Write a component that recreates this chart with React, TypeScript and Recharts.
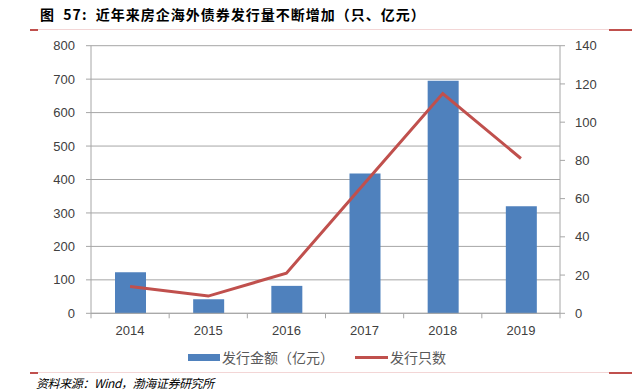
import React from "react";
import { ComposedChart, Bar, Line, XAxis, YAxis, CartesianGrid } from "recharts";

const years = ["2014", "2015", "2016", "2017", "2018", "2019"];
const amountValues = [123, 42, 82, 418, 695, 320];
const countValues = [14, 9, 21, 68, 115, 81];
const leftTicks = [0, 100, 200, 300, 400, 500, 600, 700, 800];
const rightTicks = [0, 20, 40, 60, 80, 100, 120, 140];

const titleText = "图  57:  近年来房企海外债券发行量不断增加（只、亿元）";
const sourceText = "资料来源：Wind，渤海证券研究所";
const legendAmount = "发行金额（亿元）";
const legendCount = "发行只数";

const data = years.map((y, i) => ({ year: y, amount: amountValues[i], count: countValues[i] }));

const AXIS_FONT = "'Liberation Sans', Arial, sans-serif";
const CJK_FONT = "'Noto Sans CJK SC', sans-serif";
const BAND = (560 - 91) / 6;

const XTick = (props: any) => {
  const { x, y, payload, index } = props;
  const axisY = y - 12;
  return (
    <g>
      <line x1={x - BAND / 2} x2={x - BAND / 2} y1={axisY} y2={axisY + 5} stroke="#a6a6a6" />
      {index === years.length - 1 && (
        <line x1={x + BAND / 2} x2={x + BAND / 2} y1={axisY} y2={axisY + 5} stroke="#a6a6a6" />
      )}
      <text x={x} y={y} dy="0.71em" textAnchor="middle" fill="#404040" fontSize={13} fontFamily={AXIS_FONT}>
        {payload.value}
      </text>
    </g>
  );
};

const Rule = ({ top }: { top: number }) => (
  <>
    <div style={{ position: "absolute", left: 30, top, width: 602, height: 1, background: "#f3d6d6" }} />
    <div style={{ position: "absolute", left: 30, top: top - 0.5, width: 8, height: 2, background: "#c0504d" }} />
    <div style={{ position: "absolute", left: 609, top: top - 0.5, width: 23, height: 2, background: "#c0504d" }} />
  </>
);

export default function App() {
  return (
    <div style={{ position: "absolute", left: 0, top: 0, width: 632, height: 392, background: "#fff", overflow: "hidden" }}>
      <div
        style={{
          position: "absolute",
          left: 40,
          top: 5,
          fontFamily: CJK_FONT,
          fontWeight: 700,
          fontSize: 14,
          letterSpacing: "1px",
          lineHeight: "18px",
          color: "#000",
          whiteSpace: "pre",
        }}
      >
        {titleText}
      </div>
      <Rule top={29} />
      <div style={{ position: "absolute", left: 0, top: 0 }}>
        <ComposedChart width={632} height={392} data={data} margin={{ top: 45.7, right: 0, left: 0, bottom: 48.7 }}>
          <CartesianGrid horizontal vertical={false} stroke="#a6a6a6" yAxisId="left" />
          <XAxis
            dataKey="year"
            height={30}
            tickSize={5}
            tickMargin={7}
            tickLine={false}
            axisLine={{ stroke: "#a6a6a6" }}
            tick={<XTick />}
            interval={0}
          />
          <YAxis
            yAxisId="left"
            orientation="left"
            width={91}
            domain={[0, 800]}
            ticks={leftTicks}
            tickSize={5}
            tickMargin={11}
            axisLine={{ stroke: "#a6a6a6" }}
            tickLine={{ stroke: "#a6a6a6" }}
            tick={{ fill: "#404040", fontSize: 13, fontFamily: AXIS_FONT }}
            interval={0}
          />
          <YAxis
            yAxisId="right"
            orientation="right"
            width={72}
            domain={[0, 140]}
            ticks={rightTicks}
            tickSize={5}
            tickMargin={10}
            axisLine={{ stroke: "#a6a6a6" }}
            tickLine={{ stroke: "#a6a6a6" }}
            tick={{ fill: "#404040", fontSize: 13, fontFamily: AXIS_FONT }}
            interval={0}
          />
          <Bar yAxisId="left" dataKey="amount" fill="#4f81bd" barSize={31} isAnimationActive={false} />
          <Line
            yAxisId="right"
            dataKey="count"
            type="linear"
            stroke="#c0504d"
            strokeWidth={3}
            dot={false}
            activeDot={false}
            isAnimationActive={false}
          />
        </ComposedChart>
      </div>
      <div style={{ position: "absolute", left: 188, top: 354, width: 32, height: 7, background: "#4f81bd" }} />
      <div
        style={{
          position: "absolute",
          left: 222,
          top: 347,
          fontFamily: CJK_FONT,
          fontSize: 14,
          lineHeight: "20px",
          color: "#595959",
          whiteSpace: "pre",
        }}
      >
        {legendAmount}
      </div>
      <div style={{ position: "absolute", left: 355, top: 356, width: 33, height: 3, background: "#c0504d" }} />
      <div
        style={{
          position: "absolute",
          left: 390,
          top: 347,
          fontFamily: CJK_FONT,
          fontSize: 14,
          lineHeight: "20px",
          color: "#595959",
          whiteSpace: "pre",
        }}
      >
        {legendCount}
      </div>
      <Rule top={372} />
      <div
        style={{
          position: "absolute",
          left: 36,
          top: 375,
          fontFamily: CJK_FONT,
          fontStyle: "italic",
          fontSize: 12,
          letterSpacing: "-0.4px",
          lineHeight: "16px",
          color: "#000",
          whiteSpace: "pre",
        }}
      >
        {sourceText}
      </div>
    </div>
  );
}
